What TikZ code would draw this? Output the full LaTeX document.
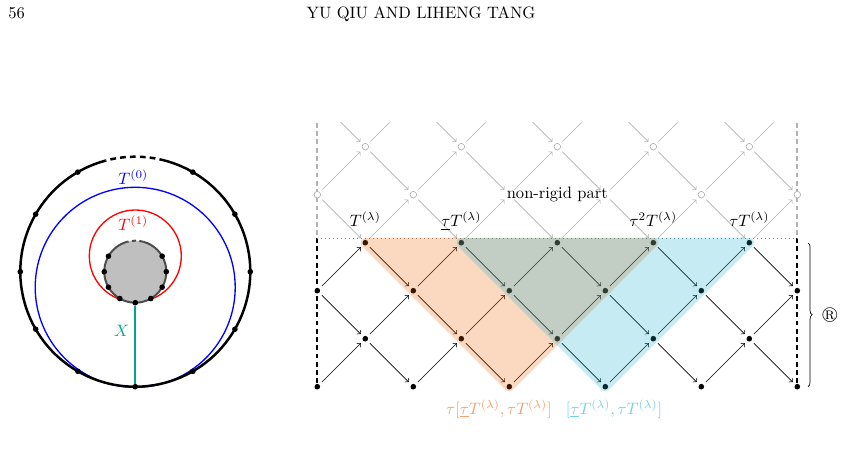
\documentclass[tikz,border=0pt]{standalone}
\usepackage{amsfonts, amsmath, amssymb}
\usepackage{tikz}
\usetikzlibrary{decorations.pathreplacing}

\definecolor{peach}{RGB}{239,99,3}
\definecolor{skyc}{RGB}{27,175,207}
\definecolor{xteal}{RGB}{0,165,140}

\tikzset{
  dot/.style={circle, fill, inner sep=0pt, minimum size=3.4pt},
  hollow/.style={circle, draw=black!30, fill=white, inner sep=0pt, minimum size=4pt},
  blank/.style={circle, inner sep=0pt, minimum size=4pt},
  arr/.style={->, shorten >=2pt, shorten <=2pt},
  garr/.style={arr, black!30},
  tlab/.style={anchor=base, inner sep=0pt},
}

\begin{document}
\begin{tikzpicture}[x=0.606pt, y=0.606pt]
\useasboundingbox (0,0) rectangle (841,-461);

% running head
\node[anchor=base west, inner sep=0pt] (pnum) at (8,-19) {56};
\node[anchor=base, inner sep=0pt] (rhead) at (421,-19) {YU QIU AND LIHENG TANG};

% the annulus
\coordinate (oc) at (135.3,-271.7);
\draw[blue, line width=0.8pt] (135.2,-287.3) circle (100);
\draw[red, line width=0.8pt] (135.3,-256) circle (46);
\fill[black!25] (oc) circle (31);
\draw[black!70, line width=1.2pt] ([shift={(105:31)}]oc) arc (105:435:31);
\draw[black!70, line width=1.2pt, dash pattern=on 2.5pt off 2pt] ([shift={(75:31)}]oc) arc (75:105:31);
\draw[line width=1.5pt] ([shift={(105:115)}]oc) arc (105:435:115);
\draw[line width=1.5pt, dash pattern=on 3.5pt off 2.5pt] ([shift={(75:115)}]oc) arc (75:105:115);

\foreach \a in {0,30,60,120,150,180,210,240,270,300,330}
  \node[dot] (o\a) at ([shift={(\a:115)}]oc) {};
\foreach \a in {0,30,150,180,210,240,270,300,330}
  \node[dot] (i\a) at ([shift={(\a:31)}]oc) {};

\draw[draw=xteal, line width=1pt] (i270) -- node[left, pos=.32, text=xteal] {$X$} (o270);
\node[blue] (t0) at (133.3,-176.7) {$T^{(0)}$};
\node[red] (t1) at (133.3,-223.5) {$T^{(1)}$};

% the AR quiver
\draw[black!30, line width=1.4pt, dash pattern=on 3pt off 2pt] (317.3,-123) -- (317.3,-238);
\draw[black!30, line width=1.4pt, dash pattern=on 3pt off 2pt] (797.3,-123) -- (797.3,-238);
\draw[line width=1.4pt, dash pattern=on 3pt off 2pt] (317.3,-238) -- (317.3,-386.7);
\draw[line width=1.4pt, dash pattern=on 3pt off 2pt] (797.3,-238) -- (797.3,-386.7);
\draw[black!50, dotted] (317.3,-238) -- (797.3,-238);

\foreach \j in {0,2} \foreach \i in {0,2,...,10}
  \node[dot] (p-\i-\j) at ({317.3+48*\i},{-386.7+48*\j}) {};
\foreach \j in {1,3} \foreach \i in {1,3,...,9}
  \node[dot] (p-\i-\j) at ({317.3+48*\i},{-386.7+48*\j}) {};
\foreach \i in {0,2,8,10}
  \node[hollow] (p-\i-4) at ({317.3+48*\i},-194.7) {};
\foreach \i in {4,6}
  \node[blank] (p-\i-4) at ({317.3+48*\i},-194.7) {};
\foreach \i in {1,3,...,9}
  \node[hollow] (p-\i-5) at ({317.3+48*\i},-146.7) {};
\foreach \i in {0,2,...,10}
  \coordinate (p-\i-6) at ({317.3+48*\i},-98.7);

% rigid part
\foreach \j in {0,2} {
  \pgfmathtruncatemacro\jj{\j+1}
  \foreach \i in {0,2,...,8} {
    \pgfmathtruncatemacro\ia{\i+1}
    \pgfmathtruncatemacro\ib{\i+2}
    \draw[arr] (p-\i-\j) -- (p-\ia-\jj);
    \draw[arr] (p-\ia-\jj) -- (p-\ib-\j);
  }
}
\foreach \i in {1,3,...,9} {
  \pgfmathtruncatemacro\ia{\i+1}
  \pgfmathtruncatemacro\iz{\i-1}
  \draw[arr] (p-\i-1) -- (p-\ia-2);
  \draw[arr] (p-\iz-2) -- (p-\i-1);
}

% non-rigid part
\begin{scope}
\clip (300,-123) rectangle (820,-300);
\foreach \j/\k in {3/4,5/6} \foreach \i in {1,3,...,9} {
  \pgfmathtruncatemacro\ia{\i+1}
  \pgfmathtruncatemacro\iz{\i-1}
  \draw[garr] (p-\i-\j) -- (p-\ia-\k);
  \draw[garr] (p-\iz-\k) -- (p-\i-\j);
}
\foreach \i in {0,2,...,8} {
  \pgfmathtruncatemacro\ia{\i+1}
  \pgfmathtruncatemacro\ib{\i+2}
  \draw[garr] (p-\i-4) -- (p-\ia-5);
  \draw[garr] (p-\ia-5) -- (p-\ib-4);
}
\end{scope}
\node (nrp) at (557.3,-194.7) {non-rigid part};

% the two intervals
\begin{scope}[opacity=.25, transparency group]
  \filldraw[peach, line width=5.7pt, line join=round] (p-1-3.center) -- (p-7-3.center) -- (p-4-0.center) -- cycle;
\end{scope}
\begin{scope}[opacity=.25, transparency group]
  \filldraw[skyc, line width=5.7pt, line join=round] (p-3-3.center) -- (p-9-3.center) -- (p-6-0.center) -- cycle;
\end{scope}

\node[tlab] (l1) at ([yshift=9.7pt]p-1-3.center) {$T^{(\lambda)}$};
\node[tlab] (l3) at ([yshift=9.7pt]p-3-3.center) {$\underline{\tau}T^{(\lambda)}$};
\node[tlab] (l7) at ([yshift=9.7pt]p-7-3.center) {$\tau^2T^{(\lambda)}$};
\node[tlab] (l9) at ([yshift=9.7pt]p-9-3.center) {$\tau T^{(\lambda)}$};

\node[tlab, peach!60] (lo) at (499,-414.2) {$\tau[\underline{\tau}T^{(\lambda)},\tau T^{(\lambda)}]$};
\node[tlab, skyc!60] (lc) at (614,-414.2) {$[\underline{\tau}T^{(\lambda)},\tau T^{(\lambda)}]$};

\draw[decorate, decoration={brace, amplitude=2.5pt}] (808,-243) -- (808,-386.7);
\node (rr) at (830,-315) {$\circledR$};
\end{tikzpicture}
\end{document}
